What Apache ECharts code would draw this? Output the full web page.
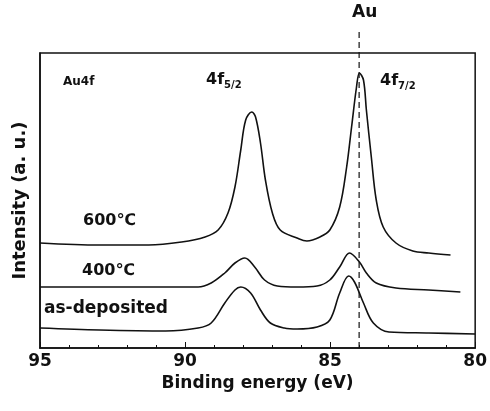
<!DOCTYPE html>
<html>
<head>
<meta charset="utf-8">
<script src="https://cdn.jsdelivr.net/npm/echarts@6/dist/echarts.min.js"></script>
<style>
  html, body { margin: 0; padding: 0; background: #fff; }
  #chart { width: 490px; height: 411px; }
</style>
</head>
<body>
<div id="chart"></div>
<script>
// binding energy (eV) and intensity (a.u., offset so curves stack)
var be600 = [95.0, 92.95, 91.25, 90.12, 89.31, 88.86, 88.52, 88.28, 88.08, 87.91, 87.70, 87.57, 87.40, 87.23, 86.99, 86.72, 86.14, 85.80, 85.35, 85.01, 84.67, 84.43, 84.26, 84.09, 83.99, 83.85, 83.75, 83.58, 83.41, 83.17, 82.73, 82.15, 81.60, 80.85];
var int600 = [105, 103, 103, 106, 111, 118, 135, 161, 198, 228, 236, 231, 205, 168, 135, 118, 110, 107, 111, 118, 141, 181, 221, 261, 275, 268, 238, 191, 148, 121, 105, 97, 95, 93];

var be400 = [95.0, 92.95, 90.67, 89.55, 89.10, 88.63, 88.28, 87.94, 87.60, 87.26, 86.82, 86.14, 85.45, 85.01, 84.67, 84.33, 83.99, 83.75, 83.41, 82.73, 81.60, 80.51];
var int400 = [61, 61, 61, 61, 65, 75, 85, 90, 81, 68, 62, 61, 62, 68, 81, 95, 86, 75, 65, 60, 58, 56];

var beDep = [95.0, 92.95, 90.67, 89.55, 89.10, 88.63, 88.28, 88.08, 87.74, 87.40, 87.06, 86.58, 86.14, 85.45, 85.01, 84.67, 84.36, 84.16, 83.85, 83.51, 82.97, 81.60, 80.0];
var intDep = [20, 18, 17, 20, 25, 45, 58, 61, 55, 38, 25, 20, 19, 21, 28, 55, 72, 66, 45, 25, 16, 15, 14];

var auLine = [[84.0, 0], [84.0, 318]];
var xTicks = [95, 90, 85, 80];

function pairs(xs, ys) {
    var out = [];
    for (var i = 0; i < xs.length; i++) {
        out.push([xs[i], ys[i]]);
    }
    return out;
}

var font = '"DejaVu Sans", sans-serif';
var ink = '#111';

var chart = echarts.init(document.getElementById('chart'));
var curveStyle = { color: ink, width: 1.6 };
var subRich = {
    b: { font: 'bold 16px ' + font, fill: ink },
    s: { font: 'bold 10px ' + font, fill: ink, padding: [10, 0, 0, 0] }
};

var option = {
    backgroundColor: '#fff',
    animation: false,
    grid: {
        left: 40, right: 10, top: 53, bottom: 63,
        show: true, borderColor: ink, borderWidth: 1.5
    },
    xAxis: {
        type: 'value',
        inverse: true,
        min: 80, max: 95, interval: 5,
        name: 'Binding energy (eV)',
        nameLocation: 'middle',
        nameGap: 25,
        nameTextStyle: { color: ink, fontFamily: font, fontWeight: 'bold', fontSize: 17 },
        axisLine: { show: true, lineStyle: { color: ink, width: 1.5 } },
        axisTick: { show: true, inside: true, length: 6, lineStyle: { color: ink } },
        minorTick: { show: true, splitNumber: 5, length: 3, lineStyle: { color: ink } },
        splitLine: { show: false },
        axisLabel: {
            color: ink, fontFamily: font, fontWeight: 'bold', fontSize: 17, margin: 5,
            formatter: function (v) { return xTicks.indexOf(v) >= 0 ? String(v) : ''; }
        }
    },
    yAxis: {
        type: 'value',
        min: 0, max: 295,
        name: 'Intensity (a. u.)',
        nameLocation: 'middle',
        nameGap: 11,
        nameTextStyle: { color: ink, fontFamily: font, fontWeight: 'bold', fontSize: 18 },
        axisLine: { show: true, lineStyle: { color: ink, width: 1.5 } },
        axisTick: { show: false },
        axisLabel: { show: false },
        splitLine: { show: false }
    },
    series: [
        {
            name: '600℃', type: 'line', data: pairs(be600, int600),
            showSymbol: false, smooth: 0.35, lineStyle: curveStyle
        },
        {
            name: '400℃', type: 'line', data: pairs(be400, int400),
            showSymbol: false, smooth: 0.35, lineStyle: curveStyle
        },
        {
            name: 'as-deposited', type: 'line', data: pairs(beDep, intDep),
            showSymbol: false, smooth: 0.35, lineStyle: curveStyle
        },
        {
            name: 'Au', type: 'line', data: auLine, clip: false,
            showSymbol: false, z: 1,
            lineStyle: { color: ink, width: 1.2, type: [6, 4] }
        }
    ],
    graphic: [
        { type: 'text', left: 352, top: 4, style: { text: 'Au', font: 'bold 17px ' + font, fill: ink } },
        { type: 'text', left: 63, top: 76, style: { text: 'Au4f', font: 'bold 12px ' + font, fill: ink } },
        { type: 'text', left: 206, top: 72, style: { text: '{b|4f}{s|5/2}', rich: subRich } },
        { type: 'text', left: 380, top: 73, style: { text: '{b|4f}{s|7/2}', rich: subRich } },
        { type: 'text', left: 83, top: 213, style: { text: '600℃', font: 'bold 16px ' + font, fill: ink } },
        { type: 'text', left: 82, top: 263, style: { text: '400℃', font: 'bold 16px ' + font, fill: ink } },
        { type: 'text', left: 44, top: 300, style: { text: 'as-deposited', font: 'bold 17px ' + font, fill: ink } }
    ]
};

chart.setOption(option);
</script>
</body>
</html>
